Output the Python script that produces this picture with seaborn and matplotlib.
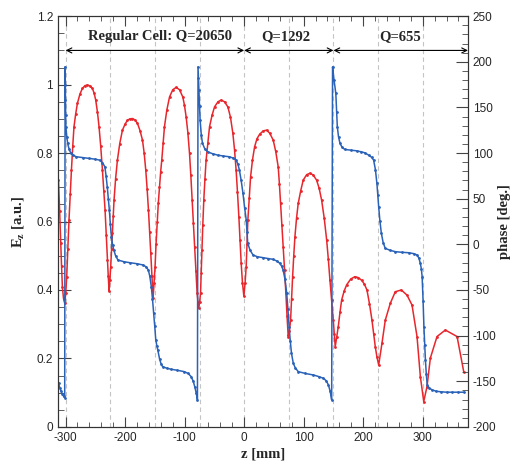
import pandas as pd
import numpy as np
import matplotlib
matplotlib.use('Agg')
import matplotlib.pyplot as plt
import seaborn as sns
from matplotlib.ticker import MultipleLocator, FuncFormatter

# field amplitude (left axis)
z_ez = [-313.8, -312.0, -310.0, -308.2, -306.8, -305.4, -303.5, -301.5,
        -299.8, -298.1, -296.2, -294.3, -292.2, -290.2, -288.0, -285.9, -283.0, -280.2,
        -276.0, -271.8, -267.5, -263.4, -259.0, -255.0, -252.0, -249.4, -246.5, -243.8,
        -241.0, -238.1, -235.9, -233.7, -231.7, -229.7, -228.3, -227.0,
        -225.6, -224.2, -222.7, -221.3, -220.0, -218.6, -216.0, -212.9, -209.0, -204.5,
        -200.0, -196.1, -192.0, -187.7, -183.5, -179.3, -175.0, -170.8, -168.0, -165.3,
        -163.0, -160.8, -158.8, -156.9, -155.0, -153.0,
        -151.4, -149.7, -148.0, -146.0, -144.2, -142.3, -140.3, -138.4, -136.0, -133.9,
        -130.0, -125.4, -120.0, -114.3, -108.5, -103.1, -100.3, -97.5, -94.6, -91.8,
        -89.6, -87.4, -85.4, -83.4, -81.2, -79.0, -77.6, -76.2,
        -74.8, -73.3, -72.2, -71.1, -69.5, -67.8, -65.9, -63.9, -61.0, -58.2,
        -54.0, -49.8, -44.0, -38.7, -33.0, -27.4, -23.0, -19.0, -16.2, -13.5,
        -11.2, -8.9, -7.0, -5.0, -2.8, -0.5,
        1.5, 3.4, 4.8, 6.2, 8.5, 10.8, 14.0, 17.5, 21.5, 26.0,
        32.0, 37.7, 43.0, 48.8, 53.0, 57.2, 59.2, 61.2, 63.4, 65.6,
        67.9, 70.1, 72.0, 74.0,
        76.0, 78.0, 79.7, 81.4, 83.3, 85.3, 88.0, 90.8, 95.0, 99.2,
        105.0, 110.5, 116.0, 121.7, 126.0, 130.1, 134.5, 138.6, 141.4, 144.1,
        147.0, 149.7, 151.4, 153.0,
        155.5, 158.1, 161.0, 163.8, 168.0, 172.2, 179.0, 186.1, 192.0, 197.6,
        202.0, 206.3, 210.5, 214.7, 217.5, 220.3, 223.0, 226.0,
        231.5, 237.1, 245.5, 253.9, 264.0, 273.6, 282.0, 290.4,
        296.0, 301.7, 307.2, 312.8, 324.0, 338.0, 357.7, 368.9]
ez = [0.741, 0.721, 0.630, 0.536, 0.470, 0.410, 0.375, 0.361,
      0.390, 0.439, 0.520, 0.604, 0.680, 0.750, 0.820, 0.877, 0.915, 0.945,
      0.972, 0.989, 0.997, 0.999, 0.996, 0.989, 0.975, 0.955, 0.920, 0.877,
      0.820, 0.750, 0.690, 0.634, 0.560, 0.488, 0.440, 0.397,
      0.430, 0.468, 0.520, 0.566, 0.615, 0.663, 0.725, 0.780, 0.828, 0.867,
      0.885, 0.896, 0.900, 0.901, 0.897, 0.887, 0.866, 0.838, 0.800, 0.750,
      0.695, 0.634, 0.570, 0.507, 0.440, 0.376,
      0.420, 0.468, 0.535, 0.600, 0.655, 0.700, 0.745, 0.780, 0.830, 0.877,
      0.925, 0.964, 0.985, 0.992, 0.985, 0.964, 0.940, 0.906, 0.860, 0.799,
      0.735, 0.663, 0.595, 0.526, 0.455, 0.390, 0.365, 0.347,
      0.365, 0.390, 0.450, 0.517, 0.590, 0.663, 0.725, 0.780, 0.830, 0.877,
      0.910, 0.935, 0.950, 0.955, 0.950, 0.935, 0.905, 0.858, 0.810, 0.750,
      0.685, 0.614, 0.545, 0.478, 0.420, 0.382,
      0.420, 0.468, 0.535, 0.604, 0.670, 0.731, 0.780, 0.818, 0.842, 0.855,
      0.865, 0.867, 0.858, 0.838, 0.805, 0.760, 0.710, 0.653, 0.590, 0.526,
      0.458, 0.390, 0.325, 0.264,
      0.280, 0.312, 0.375, 0.439, 0.500, 0.556, 0.610, 0.653, 0.690, 0.721,
      0.737, 0.741, 0.736, 0.721, 0.697, 0.663, 0.610, 0.546, 0.490, 0.429,
      0.370, 0.312, 0.270, 0.234,
      0.262, 0.293, 0.335, 0.371, 0.397, 0.415, 0.432, 0.439, 0.436, 0.428,
      0.417, 0.400, 0.360, 0.312, 0.272, 0.234, 0.205, 0.181,
      0.244, 0.312, 0.361, 0.395, 0.400, 0.385, 0.356, 0.264,
      0.147, 0.074, 0.118, 0.201, 0.264, 0.283, 0.264, 0.161]

# phase (right axis)
z_ph = [-313.8, -311.8, -309.9, -307.6, -305.4, -303.4, -301.5,
        -300.8, -300.5, -300.3, -299.9, -299.5, -298.0, -296.5, -294.0, -291.0, -287.0,
        -282.0, -270.0, -260.0, -250.0, -243.0, -238.0, -234.0, -232.0, -230.0, -228.2,
        -226.5, -224.8, -223.0, -221.0, -219.0, -216.0, -212.0, -202.0, -192.0, -180.0,
        -170.0, -165.0, -161.0, -158.5, -156.0, -154.0, -152.0, -150.2, -148.5, -146.7,
        -145.0, -142.0, -139.5, -137.0, -130.0, -123.0, -112.0, -100.5, -94.0, -89.0,
        -85.5, -83.0, -80.5, -78.5,
        -77.5, -76.8, -76.0, -75.0, -74.0, -72.0, -70.0, -66.0, -61.5, -53.0,
        -44.5, -35.0, -25.0, -18.0, -13.5, -10.5, -8.0, -5.0, -2.0, 0.8,
        3.5, 4.8, 6.0, 10.0, 15.0, 22.0, 31.5, 40.0, 48.5, 55.0,
        60.0, 63.0, 65.5, 68.5, 71.5, 73.5, 75.5, 77.5, 79.5, 82.5,
        86.0, 91.0, 103.0, 116.0, 125.0, 133.0, 138.0, 141.5, 144.5, 147.0,
        148.5, 151.0, 154.0, 155.3, 156.5, 158.5, 161.0, 164.5, 169.0, 179.0,
        189.0, 196.0, 203.0, 209.0, 214.0, 217.5, 220.5, 223.0, 224.5, 226.0,
        228.0, 230.5, 233.5, 237.0, 245.0, 254.0, 265.0, 277.0, 285.0, 290.5,
        293.5, 296.0, 297.7, 299.0, 300.6, 302.0, 303.3, 304.5, 306.0, 307.5,
        311.0, 316.0, 323.0, 330.0, 340.0, 350.0, 360.0, 370.0]
phase = [-148.5, -152.0, -157.0, -161.0, -164.0, -166.5, -168.0,
         194.5, 175.0, 158.0, 142.0, 128.8, 118.0, 110.6, 104.0, 99.7, 97.5,
         96.0, 95.0, 94.2, 93.3, 92.3, 89.5, 85.0, 75.0, 63.1, 50.0,
         37.6, 22.0, 8.4, -0.5, -6.2, -12.5, -17.2, -19.0, -20.1, -21.2,
         -22.6, -24.5, -28.1, -35.0, -46.4, -60.0, -75.5, -90.0, -104.7, -111.0,
         -116.0, -126.0, -131.0, -134.0, -135.7, -136.8, -138.0, -139.5, -141.5, -145.0,
         -150.0, -156.0, -163.0, -170.4,
         194.5, 182.0, 169.0, 152.0, 136.0, 120.0, 110.6, 104.5, 101.4, 99.3,
         97.8, 96.8, 96.0, 94.5, 92.3, 88.0, 81.4, 70.0, 55.9, 40.0,
         26.6, 13.0, 1.1, -6.5, -11.7, -13.5, -14.6, -15.5, -16.4, -18.3,
         -20.8, -24.0, -28.1, -38.0, -53.6, -71.0, -90.2, -106.0, -119.3, -130.3,
         -135.5, -139.5, -141.5, -143.1, -144.8, -146.7, -149.5, -154.0, -161.0, -170.4,
         194.5, 180.0, 165.4, 145.0, 128.8, 118.0, 110.6, 106.5, 104.0, 103.2,
         102.5, 101.5, 100.3, 97.8, 95.5, 92.3, 82.0, 66.8, 54.0, 41.2,
         26.0, 12.1, 2.0, -4.3, -6.5, -8.0, -8.7, -9.2, -10.2, -11.7,
         -15.0, -20.8, -27.0, -35.4, -62.0, -90.2, -110.0, -126.6, -142.0, -154.0,
         -157.5, -159.5, -161.0, -161.5, -162.0, -162.0, -162.0, -162.0]

cell_edges = [-300, -225, -150, -75, 0, 75, 150, 225, 300]
region_labels = ['Regular Cell: Q=20650', 'Q=1292', 'Q=655']
region_edges = [-300, 0, 150, 376]
label_x = [-141, 70, 262]

red = '#e8262c'
blue = '#2a62b8'

sns.set_style('ticks')
plt.rcParams['font.family'] = ['Liberation Sans', 'DejaVu Sans']
plt.rcParams['axes.edgecolor'] = '#333333'
plt.rcParams['axes.unicode_minus'] = False

df_ez = pd.DataFrame({'z': z_ez, 'ez': ez})
df_ph = pd.DataFrame({'z': z_ph, 'phase': phase})

fig = plt.figure(figsize=(5.12, 4.63), dpi=100)
ax = fig.add_axes([0.113, 0.078, 0.801, 0.887])
ax2 = ax.twinx()

for e in cell_edges:
    ax.axvline(e, color='#c4c4c4', ls=(0, (4, 3)), lw=0.8, zorder=0)

sns.lineplot(x='z', y='ez', data=df_ez, ax=ax, color=red, lw=1.1, marker='o',
             markersize=2, markeredgewidth=0, sort=False, estimator=None)
sns.lineplot(x='z', y='phase', data=df_ph, ax=ax2, color=blue, lw=1.1, marker='o',
             markersize=2, markeredgewidth=0, sort=False, estimator=None)

ax.set_xlim(-313, 376)
ax.set_ylim(0, 1.2)
ax2.set_ylim(-200, 250)

ax.xaxis.set_major_locator(MultipleLocator(100))
ax.xaxis.set_minor_locator(MultipleLocator(20))
ax.yaxis.set_major_locator(MultipleLocator(0.2))
ax.yaxis.set_minor_locator(MultipleLocator(0.05))
ax2.yaxis.set_major_locator(MultipleLocator(50))
ax2.yaxis.set_minor_locator(MultipleLocator(10))
ax.yaxis.set_major_formatter(FuncFormatter(lambda v, p: f'{v:g}'))

ax.tick_params(which='both', direction='in', top=True, right=False, labelsize=8.5, color='#444444')
ax.tick_params(axis='x', which='major', length=7)
ax.tick_params(axis='x', which='minor', length=3.5)
ax.tick_params(axis='y', which='major', length=9)
ax.tick_params(axis='y', which='minor', length=4.5)
ax2.tick_params(which='both', direction='in', labelsize=8.5, color='#444444')
ax2.tick_params(which='major', length=9)
ax2.tick_params(which='minor', length=4.5)

serif = dict(family=['Liberation Serif', 'DejaVu Serif'], weight='bold', fontsize=10.5)
ax.set_xlabel('z [mm]', labelpad=3, **serif)
ax.set_ylabel(r'E$_\mathregular{z}$ [a.u.]', labelpad=7, **serif)
ax2.set_ylabel('phase [deg.]', labelpad=1, **serif)

for i in range(len(region_labels)):
    ax.annotate('', xy=(region_edges[i + 1], 1.1), xytext=(region_edges[i], 1.1),
                arrowprops=dict(arrowstyle='<->', color='black', lw=0.8,
                                shrinkA=0, shrinkB=0, mutation_scale=9))
    ax.text(label_x[i], 1.14, region_labels[i], ha='center', va='center',
            family=['Liberation Serif', 'DejaVu Serif'], weight='bold', fontsize=10.5)

fig.savefig('out.png', dpi=100)
